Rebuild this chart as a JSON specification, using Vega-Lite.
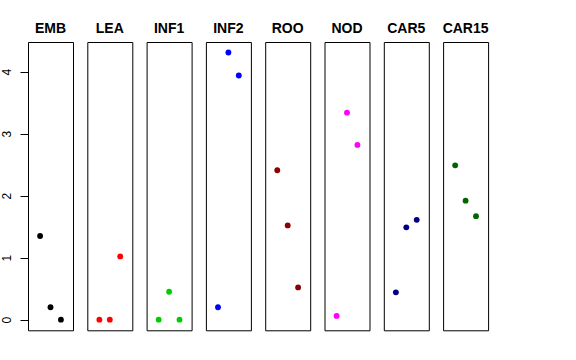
{
  "$schema": "https://vega.github.io/schema/vega-lite/v6.json",
  "padding": {"left": 0, "top": 22, "right": 5, "bottom": 5},
  "bounds": "flush",
  "data": {"values": [
    {"panel": "EMB", "x": 1, "y": 1.35}, {"panel": "EMB", "x": 2, "y": 0.20}, {"panel": "EMB", "x": 3, "y": 0.0},
    {"panel": "LEA", "x": 1, "y": 0.0}, {"panel": "LEA", "x": 2, "y": 0.0}, {"panel": "LEA", "x": 3, "y": 1.02},
    {"panel": "INF1", "x": 1, "y": 0.0}, {"panel": "INF1", "x": 2, "y": 0.45}, {"panel": "INF1", "x": 3, "y": 0.0},
    {"panel": "INF2", "x": 1, "y": 0.20}, {"panel": "INF2", "x": 2, "y": 4.31}, {"panel": "INF2", "x": 3, "y": 3.94},
    {"panel": "ROO", "x": 1, "y": 2.41}, {"panel": "ROO", "x": 2, "y": 1.52}, {"panel": "ROO", "x": 3, "y": 0.52},
    {"panel": "NOD", "x": 1, "y": 0.06}, {"panel": "NOD", "x": 2, "y": 3.34}, {"panel": "NOD", "x": 3, "y": 2.82},
    {"panel": "CAR5", "x": 1, "y": 0.44}, {"panel": "CAR5", "x": 2, "y": 1.49}, {"panel": "CAR5", "x": 3, "y": 1.61},
    {"panel": "CAR15", "x": 1, "y": 2.49}, {"panel": "CAR15", "x": 2, "y": 1.92}, {"panel": "CAR15", "x": 3, "y": 1.67}
  ]},
  "facet": {
    "column": {
      "field": "panel", "type": "nominal",
      "sort": ["EMB", "LEA", "INF1", "INF2", "ROO", "NOD", "CAR5", "CAR15"],
      "header": {"title": null, "labelFontSize": 14, "labelFontWeight": "bold", "labelFont": "Liberation Sans", "labelColor": "black", "labelPadding": 6}
    }
  },
  "spacing": 14.3,
  "spec": {
    "width": 45,
    "height": 288.3,
    "mark": {"type": "circle", "size": 34, "opacity": 1},
    "encoding": {
      "x": {"field": "x", "type": "quantitative", "scale": {"domain": [-0.16, 4.16], "nice": false, "zero": false}, "axis": null},
      "y": {"field": "y", "type": "quantitative", "scale": {"domain": [-0.172, 4.48], "nice": false, "zero": false},
        "axis": {"values": [0, 1, 2, 3, 4], "domain": false, "grid": false, "tickSize": 8, "tickColor": "black", "labelAngle": -90, "labelFont": "Liberation Sans", "labelFontSize": 12, "labelColor": "black", "labelPadding": 6.7, "title": null}},
      "color": {"field": "panel", "type": "nominal",
        "scale": {"domain": ["EMB", "LEA", "INF1", "INF2", "ROO", "NOD", "CAR5", "CAR15"], "range": ["#000000", "#FF0000", "#00CD00", "#0000FF", "#8B0000", "#FF00FF", "#000080", "#006400"]},
        "legend": null}
    }
  },
  "config": {"view": {"stroke": "black", "strokeWidth": 1}}
}
